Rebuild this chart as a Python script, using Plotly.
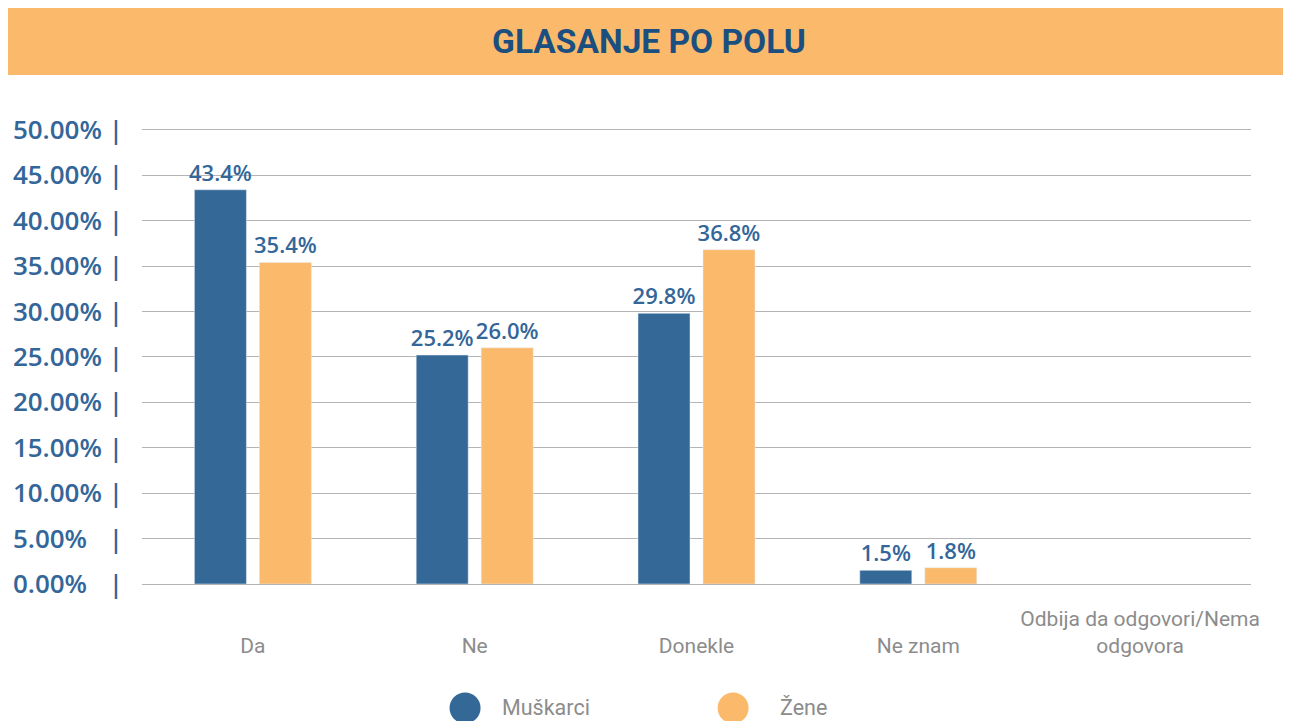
import plotly.graph_objects as go

categories = ["Da", "Ne", "Donekle", "Ne znam", "Odbija da odgovori/Nema<br>odgovora"]
muskarci = [43.4, 25.2, 29.8, 1.5, None]
zene = [35.4, 26.0, 36.8, 1.8, None]
y_ticks = [0, 5, 10, 15, 20, 25, 30, 35, 40, 45, 50]

BLUE = "#346896"
ORANGE = "#FBBA6B"
GREY = "#8c8c8c"

# single-line labels get an empty first line so they sit level with the two-line one
tick_text = [c if "<br>" in c else "<br>" + c for c in categories]
# figure space keeps the "|" aligned for the one-digit labels
y_text = [f"{v:.2f}%" + ("\u2007" if v < 10 else "") + " |" for v in y_ticks]

fig = go.Figure()
fig.add_trace(go.Bar(
    x=categories, y=muskarci, name="Muškarci", marker_color=BLUE,
    text=[f"{v:.1f}%" if v is not None else "" for v in muskarci],
    textposition="outside", constraintext="none", cliponaxis=False,
    textfont=dict(family="Open Sans", size=22, color="#336699", weight=600),
))
fig.add_trace(go.Bar(
    x=categories, y=zene, name="Žene", marker_color=ORANGE,
    text=[f"{v:.1f}%" if v is not None else "" for v in zene],
    textposition="outside", constraintext="none", cliponaxis=False,
    textfont=dict(family="Open Sans", size=22, color="#336699", weight=600),
))

# title banner and custom circle legend
shapes = [dict(type="rect", xref="paper", yref="paper", x0=-0.13, x1=1.04, y0=1.1162, y1=1.2654,
               fillcolor=ORANGE, line_width=0, layer="below")]
annotations = []
for name, color, cx, tx in [("Muškarci", BLUE, 0.2913, 0.3228), ("Žene", ORANGE, 0.5330, 0.5735)]:
    shapes.append(dict(type="circle", xref="paper", yref="paper", xsizemode="pixel", ysizemode="pixel",
                       xanchor=cx, yanchor=-0.2719, x0=-15.5, x1=15.5, y0=-15.5, y1=15.5,
                       fillcolor=color, line_width=0))
    annotations.append(dict(text=name, xref="paper", yref="paper", x=tx, y=-0.2719,
                            xanchor="left", yanchor="middle", showarrow=False,
                            font=dict(family="Roboto", size=21.5, color=GREY)))

# page body has an 8px margin, so the figure is sized to the rest of the window
fig.update_layout(
    width=1283, height=713,
    margin=dict(l=134, r=40, t=120, b=137),
    paper_bgcolor="white", plot_bgcolor="white",
    barmode="group", bargap=0.414, bargroupgap=0.2,
    showlegend=False,
    title=dict(text="<b>GLASANJE PO POLU</b>", x=0.4996, xanchor="center", y=1 - 33 / 713, yanchor="middle",
               font=dict(family="Roboto", size=33.5, color="#1B4F7F")),
    shapes=shapes,
    annotations=annotations,
    xaxis=dict(tickvals=categories, ticktext=tick_text, showgrid=False, showline=False, ticks="",
               automargin=False, tickfont=dict(family="Roboto", size=21, color=GREY), ticklabelstandoff=20),
    yaxis=dict(range=[0, 50.2], tickvals=y_ticks, ticktext=y_text, showgrid=True, gridcolor="#b5b5b5",
               gridwidth=1.3, zeroline=True, zerolinecolor="#b5b5b5", zerolinewidth=1.3, ticks="",
               automargin=False, tickfont=dict(family="Open Sans", size=26, color="#336699", weight=600),
               ticklabelstandoff=18),
)

fig.write_html("out.html")
